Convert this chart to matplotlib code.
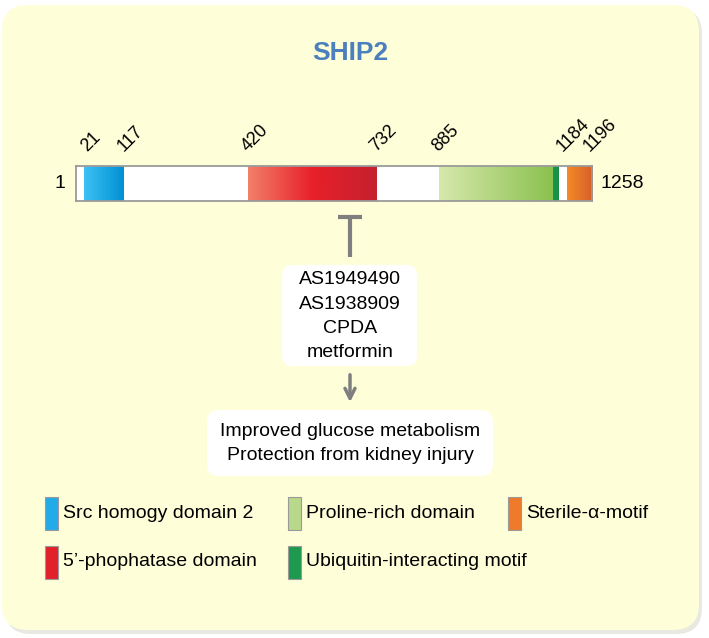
import numpy as np
import matplotlib.pyplot as plt
from matplotlib.patches import FancyBboxPatch, Rectangle
from matplotlib.colors import LinearSegmentedColormap

plt.rcParams['font.family'] = ['Liberation Sans', 'DejaVu Sans']

# Datos del esquema de SHIP2
longitud = 1258
marcas = [21, 117, 420, 732, 885, 1184, 1196]
dominios = ["Src homogy domain 2", "5\u2019-phophatase domain", "Proline-rich domain",
            "Ubiquitin-interacting motif", "Sterile-\u03b1-motif"]
inicios = [21, 420, 885, 1162, 1196]
finales = [117, 732, 1162, 1175, 1258]
colores = [["#3DC2F3", "#0090D4"],
           ["#F2806A", "#E8202A", "#C4202F"],
           ["#D6E8AC", "#8BC14F"],
           ["#129A4A", "#1B8C45"],
           ["#F58B25", "#D65E2A"]]
colores_leyenda = ["#22AAE9", "#E3212B", "#B8D88A", "#1E9A4E", "#EE7A2A"]
inhibidores = ["AS1949490", "AS1938909", "CPDA", "metformin"]
efectos = ["Improved glucose metabolism", "Protection from kidney injury"]

gris = "#7F7F7F"

fig = plt.figure(figsize=(7.09, 6.38), dpi=100)
ax = fig.add_axes([0, 0, 1, 1])
ax.set_xlim(0, 709)
ax.set_ylim(638, 0)
ax.axis('off')

# Fondo amarillo con sombra
ax.add_patch(FancyBboxPatch((5, 8), 697, 626, boxstyle="round,pad=0,rounding_size=26",
                            fc="#E9E9E2", ec="none", zorder=0))
ax.add_patch(FancyBboxPatch((2, 5), 697, 625, boxstyle="round,pad=0,rounding_size=26",
                            fc="#FEFED9", ec="none", zorder=1))

ax.text(350, 53, "SHIP2", color="#4B7FBD", fontsize=19, fontweight='bold',
        ha='center', va='center', zorder=3)

# Barra de la proteina
bar_ax = fig.add_axes([76 / 709, 1 - 201 / 638, 516 / 709, 35 / 638])
bar_ax.set_facecolor("white")
bar_ax.set_xticks([])
bar_ax.set_yticks([])
for s in bar_ax.spines.values():
    s.set_color("#9A9A9A")
    s.set_linewidth(1.3)

gradiente = np.linspace(0, 1, 256).reshape(1, -1)
for ini, fin, cols in zip(inicios, finales, colores):
    cmap = LinearSegmentedColormap.from_list("g", cols)
    bar_ax.imshow(gradiente, cmap=cmap, aspect='auto', extent=[ini, fin, 0, 1],
                  interpolation='bicubic')
bar_ax.set_xlim(1, longitud)
bar_ax.set_ylim(0, 1)

for i, m in enumerate(marcas):
    # las dos ultimas marcas estan muy juntas, se separan un poco
    dx = 5 if i < len(marcas) - 2 else (8 if i == len(marcas) - 2 else 24)
    bar_ax.annotate(str(m), (m, 1), xytext=(dx, 8), textcoords='offset points',
                    rotation=45, fontsize=13, ha='center', va='bottom',
                    annotation_clip=False)
bar_ax.annotate("1", (1, 0.5), xytext=(-8, 0), textcoords='offset points',
                fontsize=14, ha='right', va='center', annotation_clip=False)
bar_ax.annotate(str(longitud), (longitud, 0.5), xytext=(6, 0), textcoords='offset points',
                fontsize=14, ha='left', va='center', annotation_clip=False)

# Inhibicion
ax.plot([350, 350], [216, 257], color=gris, lw=3, zorder=3, solid_capstyle='butt')
ax.plot([338, 362], [217, 217], color=gris, lw=3, zorder=3, solid_capstyle='butt')

ax.add_patch(FancyBboxPatch((282, 265), 135, 101, boxstyle="round,pad=0,rounding_size=10",
                            fc="white", ec="none", zorder=2))
for i, t in enumerate(inhibidores):
    ax.text(350, 280 + i * 24.3, t, fontsize=14, ha='center', va='center', zorder=3)

ax.annotate("", xy=(350, 405), xytext=(350, 372),
            arrowprops=dict(arrowstyle="->", color=gris, lw=2.5, mutation_scale=18), zorder=3)

ax.add_patch(FancyBboxPatch((207, 410), 286, 66, boxstyle="round,pad=0,rounding_size=12",
                            fc="white", ec="none", zorder=2))
for i, t in enumerate(efectos):
    ax.text(350, 431 + i * 24.5, t, fontsize=14, ha='center', va='center', zorder=3)

# Leyenda
pos_leyenda = [(45, 513), (45, 562), (288, 513), (288, 562), (508, 513)]
for (x, y), nombre, c in zip(pos_leyenda, dominios, colores_leyenda):
    ax.add_patch(Rectangle((x, y - 16), 13, 33, fc=c, ec="#9A9A9A", lw=0.8, zorder=3))
    ax.text(x + 18, y, nombre, fontsize=14, ha='left', va='center', zorder=3)

fig.savefig("out.png", dpi=100)
